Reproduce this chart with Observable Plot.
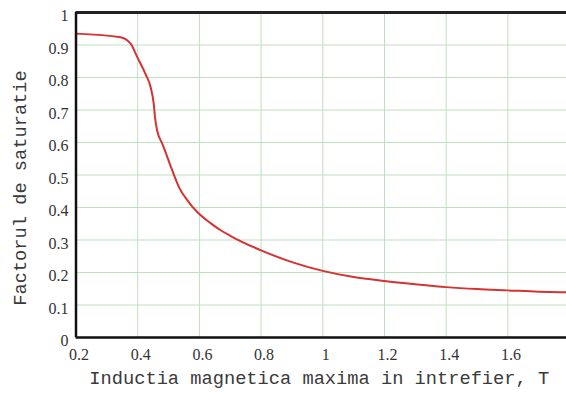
<!DOCTYPE html>
<html>
<head>
<meta charset="utf-8">
<script src="https://cdn.jsdelivr.net/npm/d3@7"></script>
<script src="https://cdn.jsdelivr.net/npm/@observablehq/plot@0.6"></script>
<style>
  html, body { margin: 0; padding: 0; background: #ffffff; }
  #chart svg { display: block; }
</style>
</head>
<body>
<div id="chart"></div>
<script>
// Data
const inductie = [0.2, 0.344, 0.377, 0.399, 0.425, 0.442, 0.452, 0.456, 0.463, 0.48, 0.496, 0.512, 0.534, 0.561, 0.593, 0.636, 0.669, 0.7, 0.8, 0.9, 1.0, 1.1, 1.2, 1.3, 1.4, 1.5, 1.6, 1.7, 1.79];
const factor   = [0.935, 0.924, 0.904, 0.862, 0.811, 0.770, 0.719, 0.678, 0.637, 0.596, 0.555, 0.514, 0.462, 0.422, 0.386, 0.352, 0.330, 0.313, 0.268, 0.232, 0.205, 0.186, 0.174, 0.164, 0.155, 0.149, 0.145, 0.141, 0.139];
const xTicks = [0.2, 0.4, 0.6, 0.8, 1, 1.2, 1.4, 1.6];
const yTicks = [0, 0.1, 0.2, 0.3, 0.4, 0.5, 0.6, 0.7, 0.8, 0.9, 1];
const xTitle = "Inductia magnetica maxima in intrefier, T";
const yTitle = "Factorul de saturatie";

const data = inductie.map((x, i) => ({x, y: factor[i]}));

const serif = "'Liberation Serif', 'Times New Roman', Times, serif";
const mono = "'Liberation Mono', 'Courier New', monospace";

const chart = Plot.plot({
  width: 566,
  height: 394,
  marginLeft: 75.5,
  marginTop: 12,
  marginBottom: 57,
  marginRight: 0,
  x: {domain: [0.2, 1.79], axis: null},
  y: {domain: [0, 1], axis: null},
  style: {background: "#ffffff", overflow: "visible"},
  marks: [
    Plot.gridX(xTicks, {stroke: "#bfe0bf", strokeOpacity: 1, strokeWidth: 1}),
    Plot.gridY(yTicks.filter(d => d > 0 && d < 1), {stroke: "#bfe0bf", strokeOpacity: 1, strokeWidth: 1}),
    Plot.line(data, {x: "x", y: "y", stroke: "#d43333", strokeWidth: 2, curve: "monotone-x"}),
    Plot.ruleY([1], {stroke: "#222222", strokeWidth: 3}),
    Plot.ruleY([0], {stroke: "#111111", strokeWidth: 2.5}),
    Plot.ruleX([0.2], {stroke: "#111111", strokeWidth: 2.5}),
    // x tick labels
    Plot.text(xTicks, {x: d => d, y: 0, text: d => String(d), dx: 3, dy: 17, fontSize: 16, fontFamily: serif, fill: "#333", lineAnchor: "middle", textAnchor: "middle"}),
    // y tick labels
    Plot.text(yTicks, {x: 0.2, y: d => d, text: d => String(d), dx: -7.5, dy: 3.5, fontSize: 16, fontFamily: serif, fill: "#333", lineAnchor: "middle", textAnchor: "end"}),
    Plot.text([xTitle], {frameAnchor: "bottom", dx: -2, dy: 41, fontSize: 18.7, fontFamily: mono, fill: "#3a3a3a", lineAnchor: "middle", textAnchor: "middle"}),
    Plot.text([yTitle], {frameAnchor: "left", rotate: -90, dx: -56, dy: 13, fontSize: 18.7, fontFamily: mono, fill: "#3a3a3a", lineAnchor: "middle", textAnchor: "middle"})
  ]
});
document.getElementById("chart").appendChild(chart);
</script>
</body>
</html>
